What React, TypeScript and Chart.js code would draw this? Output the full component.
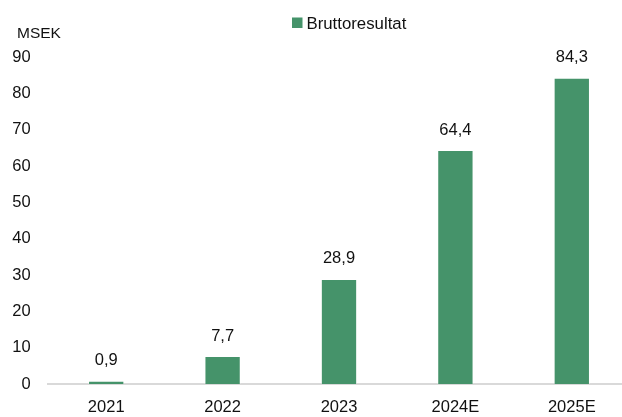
import React, { useEffect, useRef } from "react";
import { Chart, registerables } from "chart.js";

Chart.register(...registerables);

const categories = ["2021", "2022", "2023", "2024E", "2025E"];
const bruttoresultat = [0.9, 7.7, 28.9, 64.4, 84.3];
const seriesName = "Bruttoresultat";
const unitLabel = "MSEK";
const yTicks = [0, 10, 20, 30, 40, 50, 60, 70, 80, 90];

const FONT = "'Liberation Sans', Arial, sans-serif";
const BAR_COLOR = "#45936a";
const TEXT_COLOR = "#111111";

const fmt = (v: number) => v.toFixed(1).replace(".", ",");

export default function App() {
  const ref = useRef<HTMLCanvasElement | null>(null);

  useEffect(() => {
    if (!ref.current) return;
    const overlay = {
      id: "overlay",
      afterDatasetsDraw(chart: any) {
        const ctx = chart.ctx;
        ctx.save();
        // data labels
        ctx.fillStyle = TEXT_COLOR;
        ctx.font = `16.5px ${FONT}`;
        ctx.textAlign = "center";
        ctx.textBaseline = "alphabetic";
        const meta = chart.getDatasetMeta(0);
        meta.data.forEach((bar: any, i: number) => {
          ctx.fillText(fmt(bruttoresultat[i]), bar.x, bar.y - 15.5);
        });
        // unit label
        ctx.textAlign = "left";
        ctx.font = `15.5px ${FONT}`;
        ctx.fillText(unitLabel, 17, 38);
        // legend
        ctx.fillStyle = BAR_COLOR;
        ctx.fillRect(292, 17.5, 10.5, 10.5);
        ctx.fillStyle = TEXT_COLOR;
        ctx.font = `16.8px ${FONT}`;
        ctx.fillText(seriesName, 306.5, 29);
        ctx.restore();
      },
    };

    const chart = new Chart(ref.current, {
      type: "bar",
      data: {
        labels: categories,
        datasets: [
          {
            label: seriesName,
            data: bruttoresultat,
            backgroundColor: BAR_COLOR,
            borderColor: "rgba(255,255,255,0.35)",
            borderWidth: 1,
            categoryPercentage: 1,
            barPercentage: 0.312,
          },
        ],
      },
      options: {
        animation: false,
        responsive: false,
        devicePixelRatio: 1,
        layout: { padding: { top: 57, left: 0, right: 1, bottom: 0 } },
        plugins: {
          legend: { display: false },
          tooltip: { enabled: false },
        },
        scales: {
          x: {
            grid: { display: false, drawTicks: false },
            border: { display: true, color: "#d9d9d9", width: 2 },
            ticks: {
              color: TEXT_COLOR,
              font: { family: FONT, size: 16.5 },
              padding: 14,
              maxRotation: 0,
            },
            afterFit: (scale: any) => {
              scale.height = 33;
            },
          },
          y: {
            min: 0,
            max: 90,
            afterBuildTicks: (scale: any) => {
              scale.ticks = yTicks.map((v) => ({ value: v }));
            },
            grid: { display: false, drawTicks: false },
            border: { display: false },
            ticks: {
              color: TEXT_COLOR,
              font: { family: FONT, size: 16.5 },
              padding: 17.3,
            },
            afterFit: (scale: any) => {
              scale.width = 48;
            },
          },
        },
      },
      plugins: [overlay],
    });
    return () => chart.destroy();
  }, []);

  return (
    <div style={{ position: "fixed", left: 0, top: 0, width: 631, height: 417, background: "#fff" }}>
      <canvas ref={ref} width={631} height={417} style={{ display: "block" }} />
    </div>
  );
}
